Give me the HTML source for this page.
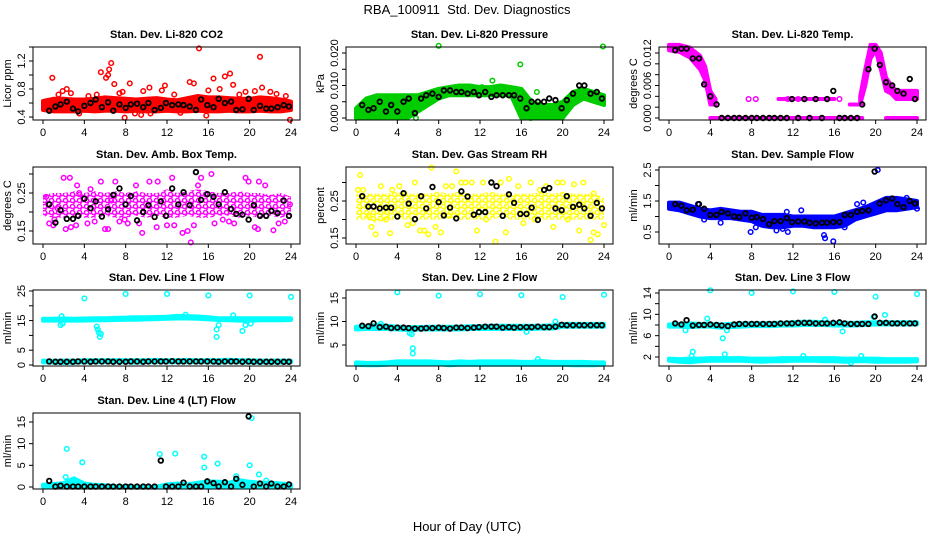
<!DOCTYPE html>
<html><head><meta charset="utf-8"><style>
html,body{margin:0;padding:0;background:#fff;}
svg{display:block;font-family:"Liberation Sans",sans-serif;}
</style></head><body>
<svg id="fig" width="936" height="540" viewBox="0 0 936 540">
<defs id="defs"></defs>
<rect x="0" y="0" width="936" height="540" fill="#fff"/>
<text x="467" y="14" font-size="13" text-anchor="middle">RBA_100911&#160; Std. Dev. Diagnostics</text>
<text x="467" y="531" font-size="13" text-anchor="middle">Hour of Day (UTC)</text>
</svg>
<script>
// shared hours for black (hourly means) series
const bx = [0.6,1.2,1.7,2.3,2.9,3.4,4.0,4.6,5.1,5.7,6.3,6.8,7.4,8.0,8.5,9.1,9.7,10.2,10.8,11.4,11.9,12.5,13.1,13.6,14.2,14.8,15.3,15.9,16.5,17.0,17.6,18.2,18.7,19.3,19.9,20.4,21.0,21.6,22.1,22.7,23.3,23.8];
const hrs = [0,1,2,3,4,5,6,7,8,9,10,11,12,13,14,15,16,17,18,19,20,21,22,23,24];
const xTicks = [0,4,8,12,16,20,24];

// ---- CO2 ----
const co2Lo = [0.5,0.48,0.48,0.48,0.49,0.48,0.49,0.49,0.48,0.49,0.48,0.48,0.49,0.48,0.48,0.49,0.48,0.48,0.49,0.48,0.48,0.49,0.48,0.48,0.5];
const co2Hi = [0.63,0.66,0.66,0.65,0.65,0.66,0.68,0.67,0.66,0.65,0.66,0.67,0.65,0.64,0.67,0.7,0.68,0.68,0.67,0.66,0.66,0.68,0.67,0.65,0.62];
const co2OutX = [0.9,5.6,6.1,6.4,6.6,6.3,6.9,8.4,7.9,10.3,11.8,14.2,14.6,15.1,16.5,17.6,18.1,18.4,21,21.2,15.8,9.5,10.4,23.9,2.3,2.7,1.9,7.4,9.7,11.5,17.1,19.6,20.5,1.5,3.5,4.4,5.2,7.7,8.9,12.7,13.3,16.0,19.0,22.0,22.6,23.5];
const co2OutY = [0.96,1.04,0.96,1.08,1.17,1.0,0.87,0.88,0.39,0.82,0.85,0.9,0.88,1.38,0.95,0.98,1.02,0.86,1.26,0.82,0.42,0.43,0.45,0.36,0.8,0.74,0.77,0.74,0.77,0.78,0.8,0.76,0.77,0.72,0.45,0.7,0.72,0.76,0.45,0.72,0.46,0.78,0.72,0.76,0.73,0.7];
const co2Black = [0.49,0.55,0.58,0.62,0.52,0.48,0.56,0.6,0.65,0.54,0.61,0.49,0.58,0.53,0.58,0.59,0.54,0.6,0.5,0.53,0.6,0.57,0.58,0.57,0.55,0.5,0.65,0.57,0.54,0.66,0.6,0.62,0.5,0.51,0.66,0.5,0.56,0.52,0.52,0.54,0.57,0.55];

// ---- Pressure ----
const prLo = [0,0,0,0,0,0,0.002,0.004,0.006,0.007,0.007,0.007,0.007,0.007,0.007,0.007,0,0,0,0,0,0.004,0.006,0.005,0.004];
const prHi = [0.003,0.006,0.007,0.007,0.007,0.007,0.007,0.008,0.009,0.0095,0.01,0.01,0.0095,0.0095,0.01,0.0095,0.009,0.005,0.004,0.004,0.005,0.008,0.009,0.008,0.007];
const prOutX = [8,23.9,15.9,13.2,17.5,5.8,19.2,16.9,18.8,0.1,12.2];
const prOutY = [0.0222,0.022,0.0165,0.0115,0.008,0,0.001,0,0.002,0.0015,0.0095];
const prBlack = [0.004,0.0025,0.003,0.005,0.002,0.004,0.002,0.005,0.006,0.0015,0.006,0.007,0.0075,0.0065,0.0085,0.0085,0.008,0.008,0.0075,0.008,0.007,0.008,0.0065,0.007,0.007,0.007,0.007,0.006,0.003,0.005,0.005,0.005,0.006,0.0055,0.003,0.0055,0.0075,0.01,0.01,0.0075,0.008,0.006];

// ---- Li-820 temp ----
const tpBandAX = [0,1,2,3,3.5,4,4.5];
const tpBandALo = [0.0125,0.0122,0.0112,0.009,0.007,0.0025,0.0025];
const tpBandAHi = [0.0135,0.0135,0.013,0.0115,0.0095,0.005,0.0035];
const tpBandEX = [18.5,19,19.5,20,20.5,21,21.5,22,24];
const tpBandELo = [0.0025,0.006,0.011,0.0125,0.009,0.005,0.0045,0.0035,0.0035];
const tpBandEHi = [0.004,0.009,0.0135,0.0135,0.012,0.0075,0.006,0.005,0.005];
const tpLevelX0 = [4,10.6,17.5,21];
const tpLevelX1 = [18.7,16.0,18.7,24];
const tpLevelY = [0,0.0035,0.0025,0];
const tpOutX = [7.7,8.4,16.5,3.5,11.5,12.5];
const tpOutY = [0.0035,0.0035,0.0035,0.0065,0.0035,0.0035];
const tpBlack = [0.0125,0.0128,0.0128,0.011,0.011,0.0062,0.004,0.0025,0,0,0,0,0,0,0,0,0,0,0,0,0.0035,0,0.0035,0,0.0035,0,0.0035,0.005,0,0,0,0,0.0025,0.009,0.0128,0.0098,0.0066,0.006,0.005,0.0045,0.0072,0.0035];

// ---- Amb box temp ----
const abLo = [0.19,0.185,0.185,0.19,0.185,0.185,0.19,0.185,0.185,0.19,0.185,0.19,0.185,0.185,0.19,0.185,0.185,0.19,0.19,0.185,0.19,0.185,0.19,0.185,0.19];
const abHi = [0.245,0.25,0.25,0.255,0.25,0.255,0.25,0.255,0.25,0.255,0.25,0.25,0.26,0.25,0.255,0.26,0.255,0.25,0.25,0.255,0.25,0.25,0.245,0.25,0.24];
const abOutX = [0.3,0.6,1.1,1.4,2,2.6,2.2,2.7,3.2,3.3,3.5,4.3,4.6,5,5.6,6,6.3,6.6,7,7.4,7.9,9,9.3,9.6,10.3,11.1,11,12.5,12.7,13.5,14,14.3,14.6,15,15.3,16.3,16.6,17.4,18.5,19.6,19.9,20.5,20.8,20.9,21.5,22.3,23.4,23.9,1.0,8.2,12.0,18.0,22.8];
const abOutY = [0.24,0.17,0.18,0.21,0.29,0.29,0.155,0.16,0.165,0.27,0.25,0.17,0.26,0.175,0.28,0.155,0.155,0.23,0.28,0.175,0.18,0.27,0.17,0.145,0.28,0.28,0.16,0.29,0.165,0.145,0.15,0.12,0.165,0.27,0.29,0.3,0.17,0.18,0.17,0.29,0.28,0.16,0.155,0.28,0.27,0.152,0.175,0.22,0.165,0.17,0.165,0.175,0.17];
const abBlack = [0.22,0.172,0.205,0.182,0.182,0.19,0.235,0.21,0.228,0.188,0.207,0.245,0.262,0.22,0.242,0.178,0.2,0.218,0.187,0.228,0.19,0.262,0.22,0.252,0.218,0.305,0.232,0.247,0.24,0.22,0.252,0.208,0.195,0.193,0.18,0.218,0.19,0.19,0.203,0.197,0.23,0.19];

// ---- Gas stream RH ----
const rhLo = [0.2,0.2,0.19,0.2,0.2,0.2,0.2,0.2,0.2,0.205,0.2,0.2,0.2,0.2,0.205,0.2,0.2,0.2,0.2,0.2,0.2,0.2,0.2,0.2,0.2];
const rhHi = [0.27,0.27,0.27,0.27,0.275,0.27,0.27,0.27,0.275,0.27,0.275,0.27,0.27,0.275,0.27,0.27,0.27,0.27,0.275,0.27,0.275,0.27,0.27,0.27,0.26];
const rhOutX = [0.2,0.4,0.7,1.2,1.5,1.9,2.4,2.9,3.3,3.5,4.2,4.7,5,5.5,5.7,6.2,6.6,7,7.3,7.7,8.2,8.7,9.3,9.7,10.2,10.6,11.2,11.7,12.3,12.6,13.1,13.5,14,14.5,14.8,15.7,16.2,16.9,17.3,17.8,18.4,19.1,19.5,20,21.1,21.6,22,22.7,23,23.4,24,23,20.5,9,3];
const rhOutY = [0.28,0.32,0.28,0.21,0.18,0.16,0.29,0.2,0.163,0.28,0.29,0.27,0.185,0.19,0.3,0.17,0.17,0.16,0.34,0.18,0.165,0.29,0.29,0.33,0.3,0.3,0.3,0.17,0.3,0.2,0.3,0.14,0.3,0.165,0.31,0.29,0.19,0.3,0.2,0.28,0.29,0.18,0.3,0.3,0.295,0.17,0.3,0.145,0.165,0.16,0.185,0.27,0.2,0.21,0.22];
const rhBlack = [0.263,0.235,0.235,0.23,0.232,0.232,0.208,0.271,0.243,0.201,0.263,0.23,0.288,0.247,0.211,0.232,0.203,0.276,0.262,0.213,0.22,0.22,0.3,0.29,0.21,0.268,0.245,0.215,0.215,0.232,0.199,0.28,0.285,0.23,0.225,0.263,0.234,0.24,0.23,0.21,0.245,0.23];

// ---- Sample flow ----
const sfLo = [1.25,1.2,1.1,1.0,0.95,0.95,0.95,0.9,0.85,0.7,0.65,0.65,0.7,0.7,0.65,0.65,0.65,0.7,0.9,1.0,1.1,1.2,1.2,1.25,1.3];
const sfHi = [1.45,1.45,1.35,1.25,1.2,1.25,1.2,1.15,1.15,1.05,1.05,1.05,1.0,1.0,1.0,1.0,1.0,1.1,1.2,1.3,1.45,1.6,1.6,1.55,1.5];
const sfOutX = [2.8,7.9,8.4,10.4,11,11.4,11.5,12.8,15,15.1,15.9,20.2,23,24,18.2,18.8,5,3.4,17];
const sfOutY = [1.4,0.5,0.65,0.55,0.6,1.15,0.5,1.2,0.4,0.3,0.2,2.5,1.6,1.25,1.4,1.45,0.8,0.9,0.65];
const sfBlack = [1.4,1.35,1.2,1.22,1.4,1.25,1.05,1.05,1.15,1.1,1.0,0.98,1.1,0.96,0.98,0.92,0.75,0.85,0.85,0.95,0.82,0.84,0.84,0.8,0.78,0.8,0.8,0.82,0.82,1.05,1.05,1.15,1.18,1.2,2.45,1.42,1.52,1.58,1.4,1.3,1.5,1.42];

// ---- Line 1 flow ----
const l1UpLo = [15.0,15.0,15.0,15.0,15.0,15.1,15.1,15.2,15.3,15.3,15.4,15.5,15.6,15.7,15.7,15.6,15.4,15.2,15.1,15.0,15.0,15.1,15.1,15.1,15.2];
const l1UpHi = [15.6,15.6,15.7,15.6,15.7,15.8,15.8,15.9,16.0,16.1,16.1,16.2,16.3,16.6,16.5,16.4,16.1,15.8,15.8,15.8,15.8,15.8,15.8,15.8,15.8];
const l1DnLo = [0.9,0.8,0.7,0.8,0.9,0.9,0.9,0.9,0.9,0.8,0.9,0.9,0.9,0.9,0.9,0.9,0.9,0.8,0.9,0.9,0.8,0.8,0.8,0.8,0.9];
const l1DnHi = [1.5,1.4,1.5,1.5,1.6,1.6,1.6,1.6,1.6,1.6,1.6,1.7,1.6,1.6,1.7,1.6,1.6,1.6,1.8,1.6,1.6,1.5,1.5,1.5,1.5];
const l1OutX = [4,8,12,16,20,24,1.7,1.9,5.2,5.3,5.4,5.5,5.6,16.8,16.8,17,19.3,19.6,20.1,1.8,18.4,13.8];
const l1OutY = [22.5,24,24,23.5,23.5,23,13.5,14,13,12,11,9.5,10.5,12,9.5,13.5,11.5,13.5,14,16.5,16.8,17];
const l1Black = [1.2,1.1,1.1,1.1,1.1,1.2,1.2,1.1,1.2,1.2,1.2,1.1,1.1,1.1,1.2,1.2,1.1,1.2,1.2,1.2,1.2,1.3,1.2,1.2,1.2,1.2,1.2,1.2,1.2,1.1,1.2,1.2,1.2,1.1,1.2,1.1,1.1,1.1,1.1,1.1,1.1,1.1];

// ---- Line 2 flow ----
const l2UpLo = [8.3,8.4,8.4,8.4,8.3,8.2,8.3,8.3,8.3,8.3,8.3,8.4,8.4,8.4,8.4,8.4,8.4,8.4,8.5,8.5,8.9,8.9,8.9,8.9,8.9];
const l2UpHi = [8.9,9.0,9.3,9.1,8.9,8.8,8.8,8.9,8.9,8.9,8.9,9.0,9.0,9.1,9.1,9.1,9.1,9.1,9.1,9.2,9.5,9.5,9.5,9.5,9.5];
const l2DnLo = [0.8,0.7,0.7,0.8,0.9,0.9,0.9,0.9,0.9,0.7,0.8,0.8,0.8,0.8,0.8,0.8,0.8,0.8,0.8,0.8,0.8,0.7,0.7,0.7,0.8];
const l2DnHi = [1.3,1.2,1.2,1.3,1.5,1.5,1.5,1.5,1.4,1.3,1.5,1.4,1.5,1.5,1.5,1.5,1.4,1.4,1.6,1.4,1.4,1.4,1.4,1.3,1.3];
const l2OutX = [4,8,12,16,20,24,5.5,5.5,5.2,5.4,16.5,19.3,17.6,2.4];
const l2OutY = [16.2,15.5,15.8,15.6,15.2,15.7,4.3,3.2,7.5,7.3,7.8,10,2,9.5];
const l2Black = [9.1,9.0,9.6,8.8,8.9,8.6,8.7,8.7,8.6,8.5,8.5,8.6,8.6,8.7,8.6,8.5,8.7,8.7,8.6,8.7,8.8,8.9,8.9,8.9,8.7,8.8,8.7,8.8,8.8,8.8,8.9,8.8,8.8,8.9,9.3,9.2,9.2,9.2,9.2,9.2,9.2,9.2];

// ---- Line 3 flow ----
const l3UpLo = [7.7,7.7,7.6,7.7,7.7,7.5,7.6,7.7,7.8,7.8,7.8,7.9,7.9,8.0,8.0,8.0,7.9,7.9,7.9,8.0,8.1,8.1,8.1,8.1,8.1];
const l3UpHi = [8.1,8.2,8.3,8.2,8.2,8.1,8.2,8.3,8.3,8.3,8.4,8.4,8.5,8.6,8.6,8.5,8.4,8.4,8.4,8.5,8.5,8.5,8.5,8.5,8.5];
const l3DnLo = [1.3,1.1,1.0,1.2,1.3,1.3,1.3,1.3,1.2,1.1,1.2,1.2,1.3,1.3,1.3,1.2,1.2,1.1,1.2,1.2,1.1,1.1,1.1,1.1,1.2];
const l3DnHi = [1.7,1.6,1.7,1.7,1.8,1.8,1.8,1.8,1.7,1.7,1.7,1.8,1.8,1.8,1.8,1.8,1.8,1.7,1.7,1.7,1.7,1.6,1.6,1.6,1.6];
const l3OutX = [4,8,12,16,20,24,1.6,3.7,5.2,5.6,5.4,2.3,2.2,16.8,19.8,20.9,13,18.6,15.1,17.6];
const l3OutY = [14.5,14,14.3,14.2,13.3,13.8,7,9.2,5.5,7,2.5,3,2.2,6.8,9.5,9.9,2.2,2.2,9,0.9];
const l3Black = [8.3,8.1,8.9,7.9,8.0,8.0,8.1,8.0,7.9,7.8,8.1,8.2,8.2,8.2,8.2,8.2,8.2,8.2,8.3,8.3,8.3,8.4,8.4,8.4,8.3,8.3,8.3,8.4,8.5,8.3,8.2,8.2,8.2,8.2,9.6,8.4,8.4,8.3,8.3,8.3,8.3,8.3];

// ---- Line 4 flow ----
const l4Lo = [0,0,0,0,0,0,0,0,0,0,0,0,0,0,0,0,0,0,0,0,0,0,0,0,0];
const l4Hi = [0.5,0.7,0.9,2.0,0.8,0.5,0.4,0.2,0.2,0.1,0.1,0.1,0.6,0.8,0.6,1.0,1.3,1.2,1.0,1.6,1.2,1.0,1.0,0.8,0.6];
const l4OutX = [2.3,3.8,11.3,12.8,15.6,15.6,16.9,20,20.2,20.9,21.6,18.7,2.2];
const l4OutY = [8.8,5.7,7.6,7.7,7,4.5,5.4,5,15.9,2.9,1.5,2.5,2.3];
const l4Black = [1.4,0.1,0.3,0.1,0.1,0.1,0.1,0.1,0.1,0.1,0.1,0.1,0.1,0.1,0.1,0.1,0.1,0.1,0.1,6.1,0.1,0.1,0.1,1.0,0.1,0.1,0.1,1.3,0.9,0.1,1.1,0.1,1.9,0.5,16.3,0.1,0.8,0.1,0.8,0.1,0.1,0.6];

const svg = document.getElementById('fig');
const defs = document.getElementById('defs');
const NS = 'http://www.w3.org/2000/svg';
function mk(tag, attrs, parent){ const e=document.createElementNS(NS,tag); for(const k in attrs) e.setAttribute(k,attrs[k]); (parent||svg).appendChild(e); return e; }

// textured fill patterns (rings of series colour) for scattered bands
function makePattern(id,col){
  const p = mk('pattern',{id:id,width:7,height:6,patternUnits:'userSpaceOnUse'},defs);
  mk('circle',{cx:2.5,cy:2.5,r:2.1,fill:'none',stroke:col,'stroke-width':1.5},p);
  mk('circle',{cx:6,cy:5.5,r:2.1,fill:'none',stroke:col,'stroke-width':1.5},p);
}
makePattern('patMag','#ff00ff');
makePattern('patYel','#ffff00');

const colL = [33,346,659], colW = 267;
const rowT = [47,167,290,413], rowB = [120,244,366,489];

const panels = [
 {name:'co2',title:'Stan. Dev. Li-820 CO2',yl:'Licor ppm',c:0,r:0,col:'#ff0000',a:[0.4,117],b:[1.2,61],ticks:[0.4,0.6,0.8,1.0,1.2,1.4],labs:[0.4,0.8,1.2],labTxt:['0.4','0.8','1.2'],
  bands:[{x:hrs,lo:co2Lo,hi:co2Hi}],outX:co2OutX,outY:co2OutY,black:co2Black},
 {name:'pressure',title:'Stan. Dev. Li-820 Pressure',yl:'kPa',c:1,r:0,col:'#00cc00',a:[0,118],b:[0.02,53],ticks:[0,0.005,0.01,0.015,0.02],labs:[0,0.01,0.02],labTxt:['0.000','0.010','0.020'],
  bands:[{x:hrs,lo:prLo,hi:prHi}],outX:prOutX,outY:prOutY,black:prBlack},
 {name:'li820-temp',title:'Stan. Dev. Li-820 Temp.',yl:'degrees C',c:2,r:0,col:'#ff00ff',a:[0,118],b:[0.012,53],ticks:[0,0.002,0.004,0.006,0.008,0.01,0.012],labs:[0,0.006,0.012],labTxt:['0.000','0.006','0.012'],
  bands:[{x:tpBandAX,lo:tpBandALo,hi:tpBandAHi},{x:tpBandEX,lo:tpBandELo,hi:tpBandEHi}].concat(tpLevelY.map((v,i)=>({x:[tpLevelX0[i],tpLevelX1[i]],lo:[v,v],hi:[v,v]}))),outX:tpOutX,outY:tpOutY,black:tpBlack},
 {name:'amb-box-temp',title:'Stan. Dev. Amb. Box Temp.',yl:'degrees C',c:0,r:1,col:'#ff00ff',pat:'url(#patMag)',a:[0.15,231],b:[0.25,193],ticks:[0.15,0.2,0.25,0.3],labs:[0.15,0.25],labTxt:['0.15','0.25'],
  bands:[{x:hrs,lo:abLo,hi:abHi}],outX:abOutX,outY:abOutY,black:abBlack},
 {name:'gas-stream-rh',title:'Stan. Dev. Gas Stream RH',yl:'percent',c:1,r:1,col:'#ffff00',pat:'url(#patYel)',a:[0.15,238],b:[0.25,201],ticks:[0.15,0.2,0.25,0.3],labs:[0.15,0.25],labTxt:['0.15','0.25'],
  bands:[{x:hrs,lo:rhLo,hi:rhHi}],outX:rhOutX,outY:rhOutY,black:rhBlack},
 {name:'sample-flow',title:'Stan. Dev. Sample Flow',yl:'ml/min',c:2,r:1,col:'#0000ff',a:[0.5,232],b:[2.5,170],ticks:[0.5,1,1.5,2,2.5],labs:[0.5,1.5,2.5],labTxt:['0.5','1.5','2.5'],
  bands:[{x:hrs,lo:sfLo,hi:sfHi}],outX:sfOutX,outY:sfOutY,black:sfBlack},
 {name:'line1-flow',title:'Stan. Dev. Line 1 Flow',yl:'ml/min',c:0,r:2,col:'#00ffff',a:[0,365],b:[25,291],ticks:[0,5,10,15,20,25],labs:[0,5,15,25],labTxt:['0','5','15','25'],
  bands:[{x:hrs,lo:l1UpLo,hi:l1UpHi},{x:hrs,lo:l1DnLo,hi:l1DnHi}],outX:l1OutX,outY:l1OutY,black:l1Black},
 {name:'line2-flow',title:'Stan. Dev. Line 2 Flow',yl:'ml/min',c:1,r:2,col:'#00ffff',a:[5,345],b:[15,298],ticks:[5,10,15],labs:[5,10,15],labTxt:['5','10','15'],
  bands:[{x:hrs,lo:l2UpLo,hi:l2UpHi},{x:hrs,lo:l2DnLo,hi:l2DnHi}],outX:l2OutX,outY:l2OutY,black:l2Black},
 {name:'line3-flow',title:'Stan. Dev. Line 3 Flow',yl:'ml/min',c:2,r:2,col:'#00ffff',a:[2,357],b:[14,293],ticks:[2,4,6,8,10,12,14],labs:[2,6,10,14],labTxt:['2','6','10','14'],
  bands:[{x:hrs,lo:l3UpLo,hi:l3UpHi},{x:hrs,lo:l3DnLo,hi:l3DnHi}],outX:l3OutX,outY:l3OutY,black:l3Black},
 {name:'line4-flow',title:'Stan. Dev. Line 4 (LT) Flow',yl:'ml/min',c:0,r:3,col:'#00ffff',a:[0,487],b:[15,422],ticks:[0,5,10,15],labs:[0,5,10,15],labTxt:['0','5','10','15'],
  bands:[{x:hrs,lo:l4Lo,hi:l4Hi}],outX:l4OutX,outY:l4OutY,black:l4Black}
];

panels.forEach(p=>{
  const L=colL[p.c], R=L+colW, T=rowT[p.r], B=rowB[p.r];
  const x0=L+10, x1=R-9;
  const X = h => x0 + (h/24)*(x1-x0);
  const Y = v => p.a[1] + (v-p.a[0])*(p.b[1]-p.a[1])/(p.b[0]-p.a[0]);
  const g = mk('g',{});
  
  
  const t = mk('text',{x:(L+R)/2,y:T-9,'font-size':11,'font-weight':'bold','text-anchor':'middle'},g);
  t.textContent=p.title;
  
  
  p.bands.forEach(bd=>{
    let d='M'+bd.x.map((h,i)=>X(h).toFixed(1)+','+Y(bd.hi[i]).toFixed(1)).join('L');
    d+='L'+bd.x.map((h,i)=>X(h).toFixed(1)+','+Y(bd.lo[i]).toFixed(1)).reverse().join('L')+'Z';
    const path = p.pat ? mk('path',{d:d,fill:p.pat,stroke:'none'},g)
                       : mk('path',{d:d,fill:p.col,stroke:p.col,'stroke-width':4,'stroke-linejoin':'round'},g);
    
    
  });
  p.outX.forEach((h,i)=>{
    const c = mk('circle',{cx:X(h),cy:Y(p.outY[i]),r:2.3,fill:'none',stroke:p.col,'stroke-width':1.5},g);
    
    
  });
  p.black.forEach((v,i)=>{
    const c = mk('circle',{cx:X(bx[i]),cy:Y(v),r:2.3,fill:'none',stroke:'#000','stroke-width':1.8},g);
    
    
  });
  const box = mk('rect',{x:L,y:T,width:colW,height:B-T,fill:'none',stroke:'#000','stroke-width':1},g);
  
  
  const xa = mk('g',{},g);
  
  
  mk('line',{x1:X(0),x2:X(24),y1:B,y2:B,stroke:'#000'},xa);
  xTicks.forEach(h=>{
    mk('line',{x1:X(h),x2:X(h),y1:B,y2:B+4,stroke:'#000'},xa);
    const tl = mk('text',{x:X(h),y:B+16,'font-size':11,'text-anchor':'middle'},xa);
    tl.textContent=String(h);
    
    
  });
  const ya = mk('g',{},g);
  
  
  const yt = p.ticks.map(Y);
  mk('line',{x1:L,x2:L,y1:Math.min(...yt),y2:Math.max(...yt),stroke:'#000'},ya);
  p.ticks.forEach(v=>mk('line',{x1:L-4,x2:L,y1:Y(v),y2:Y(v),stroke:'#000'},ya));
  p.labs.forEach((v,i)=>{
    const yy=Y(v), xx=L-8;
    const tl = mk('text',{x:xx,y:yy,'font-size':11,'text-anchor':'middle',transform:'rotate(-90 '+xx+' '+yy+')'},ya);
    tl.textContent=p.labTxt[i];
    
    
  });
  const yx=L-22, yy=(T+B)/2;
  const ylab = mk('text',{x:yx,y:yy,'font-size':11,'text-anchor':'middle',transform:'rotate(-90 '+yx+' '+yy+')'},ya);
  ylab.textContent=p.yl;
  
  
});
</script>
</body></html>
